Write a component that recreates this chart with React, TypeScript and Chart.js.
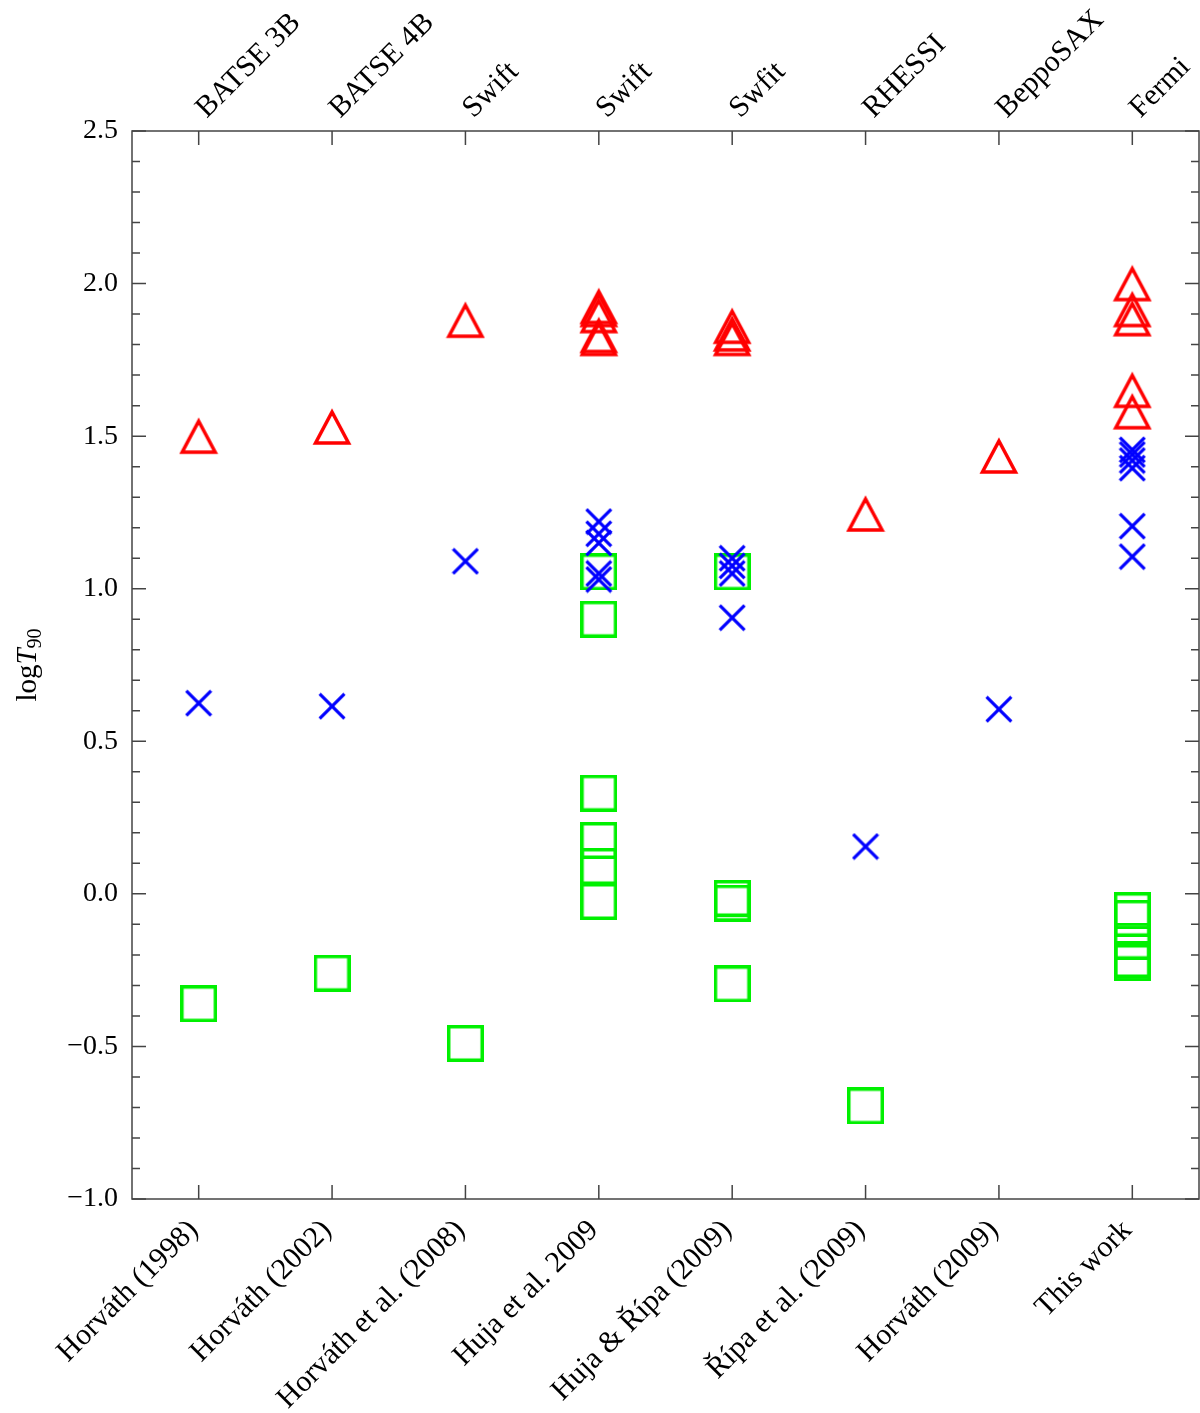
import { useEffect, useRef } from 'react'
import { Chart, registerables } from 'chart.js'

Chart.register(...registerables)

const categories = [
  'Horváth (1998)',
  'Horváth (2002)',
  'Horváth et al. (2008)',
  'Huja et al. 2009',
  'Huja & Řípa (2009)',
  'Řípa et al. (2009)',
  'Horváth (2009)',
  'This work',
]
const instruments = ['BATSE 3B', 'BATSE 4B', 'Swift', 'Swift', 'Swfit', 'RHESSI', 'BeppoSAX', 'Fermi']

// log T90 per category (long / intermediate / short groups)
const longT90 = [
  [1.5],
  [1.53],
  [1.88],
  [1.925, 1.915, 1.895, 1.83, 1.82],
  [1.86, 1.835, 1.82],
  [1.245],
  [1.435],
  [2.0, 1.915, 1.885, 1.65, 1.58],
]
const intermediateT90 = [
  [0.625],
  [0.615],
  [1.09],
  [1.22, 1.18, 1.15, 1.05, 1.03],
  [1.1, 1.075, 1.05, 0.905],
  [0.155],
  [0.605],
  [1.455, 1.44, 1.42, 1.395, 1.205, 1.105],
]
const shortT90 = [
  [-0.36],
  [-0.26],
  [-0.49],
  [1.055, 0.9, 0.33, 0.175, 0.09, -0.025],
  [1.055, -0.015, -0.03, -0.295],
  [-0.695],
  [],
  [-0.055, -0.08, -0.155, -0.215, -0.225],
]

const yMin = -1.0
const yMax = 2.5
const majorStep = 0.5
const minorStep = 0.1

const FONT = "'Liberation Serif', 'Times New Roman', serif"
const AXIS_COLOR = '#444'

function marker(kind: 'tri' | 'x' | 'sq', color: string, size: number, lw: number) {
  const c = document.createElement('canvas')
  c.width = size
  c.height = size
  const ctx = c.getContext('2d')!
  ctx.strokeStyle = color
  ctx.lineWidth = lw
  ctx.beginPath()
  if (kind === 'sq') {
    const h = lw / 2
    ctx.rect(h, h, size - lw, size - lw)
  } else if (kind === 'x') {
    const h = lw / 2
    ctx.moveTo(h, h)
    ctx.lineTo(size - h, size - h)
    ctx.moveTo(size - h, h)
    ctx.lineTo(h, size - h)
  } else {
    ctx.lineJoin = 'miter'
    ctx.moveTo(size / 2, 5)
    ctx.lineTo(size - 3.5, size - 4)
    ctx.lineTo(3.5, size - 4)
    ctx.closePath()
  }
  ctx.stroke()
  return c
}

const toPoints = (groups: number[][]) =>
  categories.flatMap((c, i) => groups[i].map((y) => ({ x: c, y })))

const fmt = (v: number) => v.toFixed(1).replace('-', '\u2212')

const frameTicks = {
  id: 'frameTicks',
  afterDraw(chart: any) {
    const { ctx, chartArea: a, scales } = chart
    ctx.save()
    ctx.strokeStyle = AXIS_COLOR
    ctx.lineWidth = 1.5
    ctx.strokeRect(a.left, a.top, a.right - a.left, a.bottom - a.top)
    const y = scales.y
    const n = Math.round((yMax - yMin) / minorStep)
    const every = Math.round(majorStep / minorStep)
    ctx.beginPath()
    for (let i = 0; i <= n; i++) {
      const py = y.getPixelForValue(yMin + i * minorStep)
      const len = i % every === 0 ? 14 : 8
      ctx.moveTo(a.left, py)
      ctx.lineTo(a.left + len, py)
      ctx.moveTo(a.right, py)
      ctx.lineTo(a.right - len, py)
    }
    const x = scales.x
    categories.forEach((_, i) => {
      const px = x.getPixelForTick(i)
      ctx.moveTo(px, a.bottom)
      ctx.lineTo(px, a.bottom - 14)
      ctx.moveTo(px, a.top)
      ctx.lineTo(px, a.top + 14)
    })
    ctx.stroke()

    // y title: log T_90
    const cy = (a.top + a.bottom) / 2
    ctx.translate(0, cy)
    ctx.rotate(-Math.PI / 2)
    ctx.fillStyle = '#000'
    ctx.textBaseline = 'alphabetic'
    ctx.textAlign = 'left'
    const f1 = `29px ${FONT}`
    const f2 = `italic 29px ${FONT}`
    const f3 = `20px ${FONT}`
    ctx.font = f1
    const w1 = ctx.measureText('log').width
    ctx.font = f2
    const w2 = ctx.measureText('T').width
    ctx.font = f3
    const w3 = ctx.measureText('90').width
    let tx = -(w1 + w2 + w3) / 2
    const base = 36
    ctx.font = f1
    ctx.fillText('log', tx, base)
    tx += w1
    ctx.font = f2
    ctx.fillText('T', tx, base)
    tx += w2
    ctx.font = f3
    ctx.fillText('90', tx, base + 5)
    ctx.restore()
  },
}

const zeroPad = (s: any) => {
  s.paddingLeft = 0
  s.paddingRight = 0
  s.paddingTop = 0
  s.paddingBottom = 0
}

const App = () => {
  const chartRef = useRef<HTMLCanvasElement>(null)

  useEffect(() => {
    if (!chartRef.current) return
    document.body.style.margin = '0'
    document.body.style.overflow = 'hidden'
    const tri = marker('tri', '#ff0000', 40, 3.5)
    const cross = marker('x', '#0000ff', 28, 3.2)
    const sq = marker('sq', '#00f000', 37, 3.5)

    const myChart = new Chart(chartRef.current, {
      type: 'line',
      data: {
        labels: categories,
        datasets: [
          {
            label: 'long',
            data: toPoints(longT90) as any,
            pointStyle: tri as any,
            pointRadius: 10,
            showLine: false,
          },
          {
            label: 'intermediate',
            data: toPoints(intermediateT90) as any,
            pointStyle: cross as any,
            pointRadius: 10,
            showLine: false,
          },
          {
            label: 'short',
            data: toPoints(shortT90) as any,
            pointStyle: sq as any,
            pointRadius: 10,
            showLine: false,
          },
        ],
      },
      options: {
        animation: false,
        responsive: false,
        maintainAspectRatio: false,
        devicePixelRatio: 1,
        layout: { padding: { right: 0 } },
        plugins: {
          legend: { display: false },
          tooltip: { enabled: false },
        },
        scales: {
          x: {
            type: 'category',
            position: 'bottom',
            offset: true,
            grid: { display: false, drawTicks: false },
            border: { display: false },
            ticks: {
              autoSkip: false,
              maxRotation: 45,
              minRotation: 45,
              padding: 14,
              labelOffset: -5,
              color: '#000',
              font: { family: FONT, size: 30 },
            },
            afterFit: (s: any) => {
              s.height = 214
              zeroPad(s)
            },
          },
          x2: {
            type: 'category',
            position: 'top',
            labels: instruments,
            offset: true,
            grid: { display: false, drawTicks: false },
            border: { display: false },
            ticks: {
              autoSkip: false,
              maxRotation: 45,
              minRotation: 45,
              padding: 5,
              labelOffset: 28,
              color: '#000',
              font: { family: FONT, size: 30 },
            },
            afterFit: (s: any) => {
              s.height = 131
              zeroPad(s)
            },
          },
          y: {
            type: 'linear',
            min: yMin,
            max: yMax,
            grid: { display: false, drawTicks: false },
            border: { display: false },
            ticks: {
              stepSize: majorStep,
              padding: 14,
              color: '#000',
              font: { family: FONT, size: 28 },
              callback: (v: any) => fmt(Number(v)),
            },
            afterFit: (s: any) => {
              s.width = 132
              zeroPad(s)
            },
          },
        },
      },
      plugins: [frameTicks],
    })

    return () => {
      myChart.destroy()
    }
  }, [])

  return (
    <div
      style={{
        position: 'absolute',
        left: 0,
        top: 0,
        width: 1200,
        height: 1413,
        overflow: 'hidden',
        background: '#fff',
      }}
    >
      <canvas ref={chartRef} width={1210} height={1413} />
    </div>
  )
}

export default App
